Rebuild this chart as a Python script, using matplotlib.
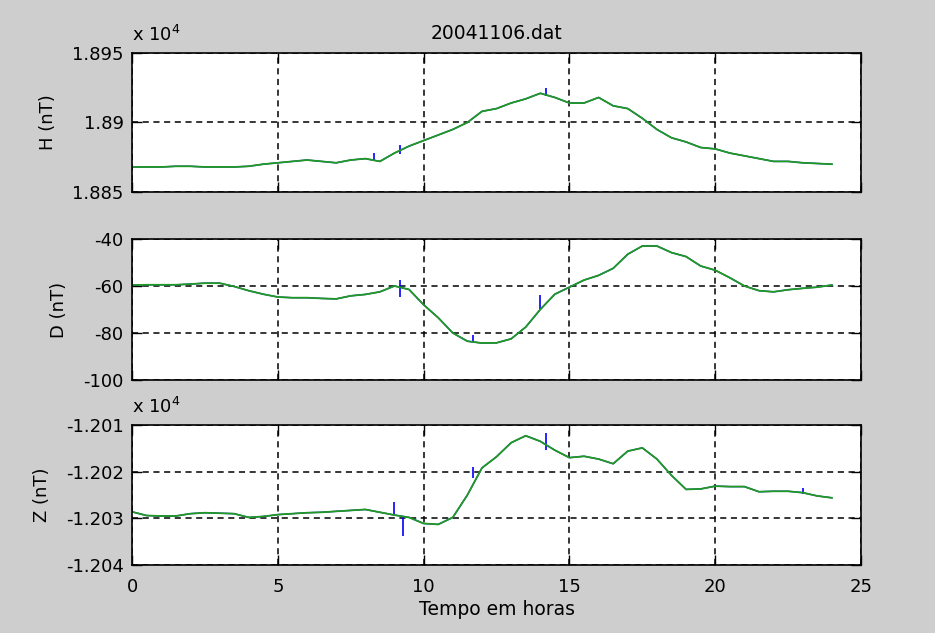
import matplotlib.pyplot as plt
from matplotlib.ticker import FuncFormatter

# hours, every half hour
t = [i * 0.5 for i in range(49)]

H = [18868, 18868, 18868, 18868.5, 18868.5, 18868, 18868, 18868, 18868.5, 18870,
     18871, 18872, 18873, 18872, 18871, 18873, 18874, 18872, 18878, 18883,
     18887, 18891, 18895, 18900, 18908, 18910, 18914, 18917, 18921, 18918,
     18914, 18914, 18918, 18912, 18910, 18903, 18895, 18889, 18886, 18882,
     18881, 18878, 18876, 18874, 18872, 18872, 18871, 18870.5, 18870]

D = [-59.6, -59.5, -59.5, -59.5, -59.2, -58.8, -58.8, -60.2, -62, -63.5,
     -64.7, -65, -65, -65.3, -65.5, -64.2, -63.6, -62.5, -60, -61.5,
     -68, -73.5, -80, -83.5, -84.3, -84.2, -82.5, -77.5, -70, -63.5,
     -60.5, -57.5, -55.5, -52.5, -46.5, -43, -43, -45.8, -47.5, -51.5,
     -53.3, -56.5, -60, -62, -62.5, -61.6, -61, -60.5, -59.6]

Z = [-12028.6, -12029.4, -12029.5, -12029.5, -12029, -12028.8, -12028.9, -12029, -12029.8, -12029.6,
     -12029.2, -12029.0, -12028.8, -12028.7, -12028.5, -12028.3, -12028.1, -12028.7, -12029.3, -12029.8,
     -12031.1, -12031.3, -12029.8, -12025, -12019.2, -12016.8, -12013.8, -12012.3, -12013.5, -12015.4,
     -12017, -12016.7, -12017.3, -12018.3, -12015.6, -12014.9, -12017.3, -12020.8, -12023.8, -12023.7,
     -12023.1, -12023.2, -12023.2, -12024.3, -12024.2, -12024.2, -12024.5, -12025.2, -12025.6]

# spikes in the raw (blue) record: time, low, high
H_spk = [(8.3, 18872, 18878), (9.2, 18877, 18884), (14.2, 18919, 18925)]
D_spk = [(9.2, -64.7, -57.4), (11.7, -84, -81), (14.0, -70, -64)]
Z_spk = [(9.0, -12029.3, -12026.6), (9.3, -12033.7, -12029.8), (11.7, -12021.4, -12018.9),
         (14.2, -12015.4, -12011.8), (23.0, -12024.8, -12023.5)]

bg = '#cecece'
fig = plt.figure(figsize=(9.35, 6.33), dpi=100, facecolor=bg)
plt.rcParams['font.family'] = 'DejaVu Sans'
plt.rcParams['mathtext.fontset'] = 'dejavusans'

boxes = [[0.1412, 0.6967, 0.7797, 0.2196],
         [0.1412, 0.3997, 0.7797, 0.2228],
         [0.1412, 0.1074, 0.7797, 0.2212]]

panels = [
    ([v / 1e4 for v in H], [(a, b / 1e4, c / 1e4) for a, b, c in H_spk],
     (1.885, 1.895), [1.885, 1.89, 1.895], 'H (nT)', True),
    (D, D_spk, (-100, -40), [-100, -80, -60, -40], 'D (nT)', False),
    ([v / 1e4 for v in Z], [(a, b / 1e4, c / 1e4) for a, b, c in Z_spk],
     (-1.204, -1.201), [-1.204, -1.203, -1.202, -1.201], 'Z (nT)', True),
]

fmt = FuncFormatter(lambda v, p: ('%.4f' % v).rstrip('0').rstrip('.') if abs(v) < 10 else '%g' % v)

for i, (y, spk, ylim, yt, lab, sci) in enumerate(panels):
    ax = fig.add_axes(boxes[i])
    ax.plot(t, y, color='blue', lw=1.0)
    ax.vlines([s[0] for s in spk], [s[1] for s in spk], [s[2] for s in spk], color='blue', lw=1.2)
    ax.plot(t, y, color='#219a21', lw=1.3)
    ax.set_xlim(0, 25)
    ax.set_ylim(*ylim)
    ax.set_yticks(yt)
    ax.yaxis.set_major_formatter(fmt)
    ax.set_xticks([0, 5, 10, 15, 20, 25])
    ax.grid(True, color='black', ls=(0, (4, 3)), lw=1.1)
    ax.tick_params(direction='in', length=7, width=1, top=True, right=True,
                   labelsize=13, colors='black')
    ax.tick_params(axis='y', pad=6)
    ax.tick_params(axis='x', pad=9)
    for sp in ax.spines.values():
        sp.set_linewidth(1.2)
    ax.set_ylabel(lab, fontsize=13, labelpad=11)
    if i < 2:
        ax.tick_params(labelbottom=False)
    if sci:
        ax.text(0.0, 1.06, r'x 10$^{4}$', transform=ax.transAxes, fontsize=13, va='bottom', ha='left')
    if i == 0:
        ax.set_title('20041106.dat', fontsize=13.5, pad=10)
    if i == 2:
        ax.set_xlabel('Tempo em horas', fontsize=13.5, labelpad=3)

fig.savefig('out.png', dpi=100, facecolor=bg)
